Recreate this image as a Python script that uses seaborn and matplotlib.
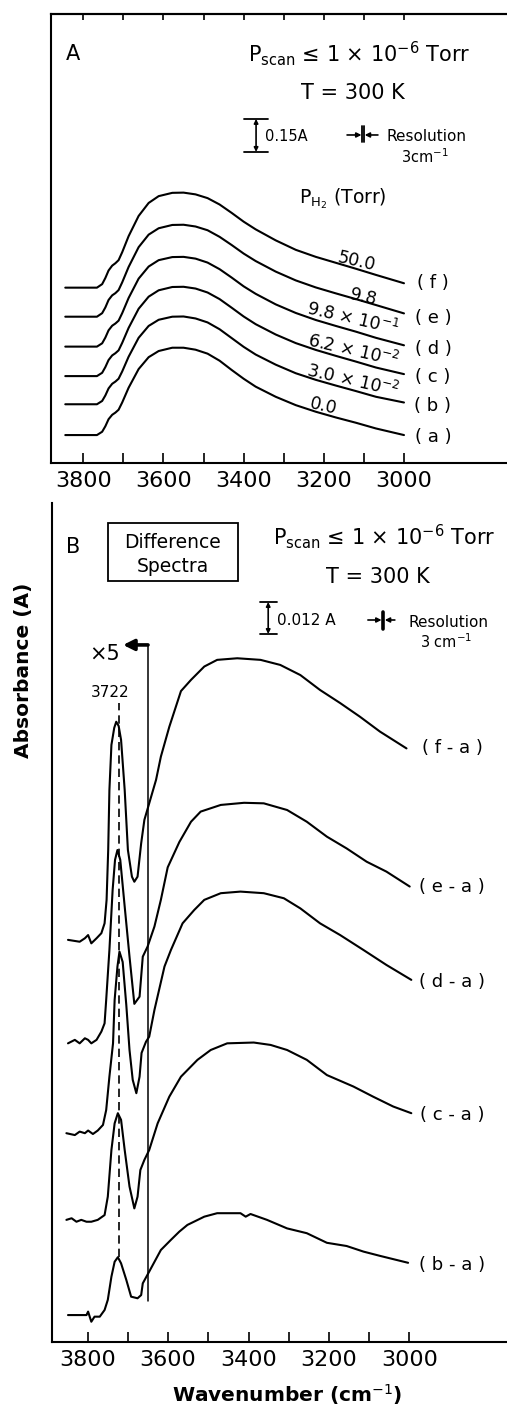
import numpy as np
import pandas as pd
import matplotlib
matplotlib.use("Agg")
import matplotlib.pyplot as plt
import seaborn as sns
from matplotlib.patches import Rectangle

W, H = 507, 1406

# ---------------- Panel A : spectra under H2 (absorbance above own baseline, A) ----
wavenumber_a = [3845, 3766, 3753, 3745, 3737, 3728, 3720, 3712, 3703, 3687, 3662, 3637,
                3612, 3578, 3550, 3520, 3490, 3460, 3430, 3400, 3370, 3320, 3270, 3220,
                3170, 3120, 3070, 3000]
spec_a = [0, 0, 0.015, 0.040, 0.072, 0.092, 0.102, 0.115, 0.148, 0.215, 0.300, 0.354,
          0.382, 0.397, 0.397, 0.388, 0.370, 0.338, 0.296, 0.256, 0.220, 0.174, 0.136,
          0.106, 0.080, 0.056, 0.030, 0.000]
spec_b = [0, 0, 0.015, 0.040, 0.072, 0.093, 0.103, 0.116, 0.149, 0.216, 0.302, 0.356,
          0.384, 0.398, 0.399, 0.390, 0.372, 0.341, 0.301, 0.261, 0.226, 0.180, 0.141,
          0.111, 0.085, 0.060, 0.034, 0.008]
spec_c = [0, 0, 0.015, 0.041, 0.073, 0.094, 0.104, 0.117, 0.151, 0.219, 0.306, 0.361,
          0.390, 0.405, 0.406, 0.398, 0.380, 0.350, 0.311, 0.271, 0.236, 0.189, 0.150,
          0.119, 0.092, 0.066, 0.039, 0.009]
spec_d = [0, 0, 0.015, 0.041, 0.074, 0.095, 0.105, 0.118, 0.152, 0.221, 0.309, 0.364,
          0.393, 0.407, 0.408, 0.400, 0.382, 0.352, 0.314, 0.274, 0.240, 0.192, 0.153,
          0.121, 0.094, 0.068, 0.040, 0.006]
spec_e = [0, 0, 0.016, 0.042, 0.076, 0.097, 0.107, 0.121, 0.156, 0.226, 0.316, 0.373,
          0.402, 0.417, 0.418, 0.410, 0.393, 0.363, 0.326, 0.287, 0.253, 0.205, 0.165,
          0.133, 0.106, 0.080, 0.053, 0.015]
spec_f = [0, 0, 0.016, 0.044, 0.078, 0.100, 0.111, 0.125, 0.161, 0.234, 0.326, 0.385,
          0.416, 0.431, 0.432, 0.424, 0.407, 0.378, 0.340, 0.300, 0.265, 0.215, 0.172,
          0.140, 0.113, 0.086, 0.058, 0.020]
spectrum_ids = ["a", "b", "c", "d", "e", "f"]
baseline_a = [0.127, 0.267, 0.395, 0.529, 0.665, 0.797]
pressure_labels = ["0.0", "3.0 × 10$^{-2}$", "6.2 × 10$^{-2}$", "9.8 × 10$^{-1}$",
                   "9.8", "50.0"]

# ---------------- Panel B : difference spectra (displayed, 10^-3 A) ----------------
fa_wn = [3849, 3820, 3807, 3799, 3791, 3778, 3766, 3758, 3753, 3749, 3746, 3741, 3734,
         3729, 3723, 3717, 3708, 3700, 3690, 3684, 3676, 3667, 3659, 3647, 3630, 3618,
         3597, 3568, 3543, 3510, 3478, 3428, 3370, 3321, 3271, 3222, 3172, 3123, 3073, 3007]
fa_abs = [150.8, 150.1, 151.4, 152.6, 149.5, 151.4, 153.3, 157.0, 165.8, 184.5, 207.0,
          223.9, 230.3, 232.6, 231.0, 225.8, 207.0, 184.5, 174.5, 172.6, 174.5, 187.0,
          195.8, 202.0, 210.8, 219.5, 230.7, 244.1, 248.3, 253.3, 255.8, 256.4, 255.8,
          253.9, 250.1, 244.5, 239.6, 234.5, 228.9, 222.6]
ea_wn = [3849, 3832, 3820, 3807, 3799, 3791, 3778, 3766, 3758, 3754, 3746, 3738, 3732,
         3726, 3719, 3708, 3696, 3684, 3671, 3663, 3651, 3634, 3618, 3601, 3572, 3543,
         3519, 3469, 3411, 3362, 3304, 3255, 3205, 3156, 3106, 3057, 2999]
ea_abs = [112.0, 113.3, 112.0, 113.9, 113.3, 112.0, 113.3, 116.4, 119.5, 128.3, 147.0,
          169.5, 180.8, 184.5, 180.8, 163.3, 144.5, 126.8, 129.5, 144.5, 148.3, 155.8,
          165.8, 178.0, 187.5, 195.1, 198.9, 201.4, 202.2, 202.0, 199.5, 195.1, 189.5,
          185.1, 180.1, 176.4, 170.8]
da_wn = [3853, 3832, 3820, 3807, 3799, 3787, 3775, 3762, 3754, 3746, 3737, 3733, 3726,
         3721, 3713, 3704, 3696, 3688, 3679, 3671, 3666, 3655, 3647, 3634, 3609, 3593,
         3564, 3535, 3510, 3469, 3420, 3362, 3312, 3271, 3222, 3172, 3114, 3057, 2995]
da_abs = [78.3, 77.6, 78.9, 78.3, 79.3, 78.0, 79.3, 81.4, 87.0, 99.5, 112.0, 128.3, 140.8,
          146.4, 142.5, 126.4, 109.5, 98.3, 93.3, 99.5, 108.4, 112.6, 114.5, 124.5, 140.8,
          147.0, 157.0, 162.0, 165.8, 168.3, 168.9, 168.3, 166.4, 162.6, 157.0, 152.6,
          147.0, 141.4, 135.8]
ca_wn = [3853, 3840, 3828, 3816, 3803, 3791, 3775, 3758, 3750, 3741, 3733, 3725, 3717,
         3708, 3696, 3684, 3676, 3669, 3659, 3647, 3626, 3597, 3568, 3527, 3494, 3453,
         3387, 3345, 3304, 3255, 3205, 3139, 3090, 3040, 2995]
ca_abs = [45.8, 46.4, 45.1, 45.8, 45.1, 45.1, 45.8, 47.6, 54.5, 72.0, 82.0, 85.8, 83.3,
          72.0, 58.3, 50.1, 54.5, 64.5, 68.3, 72.0, 82.0, 92.0, 99.5, 105.8, 109.5, 112.0,
          112.3, 111.4, 109.5, 105.8, 100.1, 95.8, 92.0, 88.3, 85.8]
ba_wn = [3849, 3803, 3799, 3791, 3783, 3770, 3758, 3750, 3741, 3733, 3725, 3717, 3704,
         3692, 3676, 3667, 3663, 3647, 3618, 3593, 3572, 3552, 3510, 3478, 3453, 3420,
         3407, 3395, 3354, 3304, 3255, 3205, 3156, 3114, 3073, 3003]
ba_abs = [10.1, 10.1, 11.4, 7.6, 9.5, 9.5, 12.0, 15.8, 24.5, 30.1, 31.8, 29.5, 23.3, 17.0,
          16.4, 17.6, 22.0, 26.4, 34.5, 38.3, 41.4, 43.9, 47.0, 48.3, 48.3, 48.3, 47.0,
          48.0, 45.8, 42.6, 40.8, 37.2, 36.0, 33.9, 32.3, 29.7]
diff_ids = ["(f-a)", "(e-a)", "(d-a)", "(c-a)", "(b-a)"]
diff_labels = ["( f - a )", "( e - a )", "( d - a )", "( c - a )", "( b - a )"]

tick_values = [3800, 3700, 3600, 3500, 3400, 3300, 3200, 3100, 3000]
tick_labels = ["3800", "", "3600", "", "3400", "", "3200", "", "3000"]
x5_boundary = 3650
peak_3722 = 3722

# ---------------- build frames ----------------
rows = []
specs = [spec_a, spec_b, spec_c, spec_d, spec_e, spec_f]
for sid, base, vals in zip(spectrum_ids, baseline_a, specs):
    for w, v in zip(wavenumber_a, vals):
        rows.append({"wn": w, "A": base + v, "spectrum": sid})
df_a = pd.DataFrame(rows)

rows = []
for sid, wns, vals in zip(diff_ids, [fa_wn, ea_wn, da_wn, ca_wn, ba_wn],
                          [fa_abs, ea_abs, da_abs, ca_abs, ba_abs]):
    for w, v in zip(wns, vals):
        rows.append({"wn": w, "A": v, "spectrum": sid})
df_b = pd.DataFrame(rows)

# ---------------- style ----------------
sns.set_style("white")
plt.rcParams["font.family"] = ["DejaVu Sans"]
plt.rcParams["mathtext.fontset"] = "dejavusans"
plt.rcParams["axes.linewidth"] = 1.5
plt.rcParams["text.color"] = "black"
plt.rcParams["axes.labelcolor"] = "black"
plt.rcParams["xtick.color"] = "black"
plt.rcParams["ytick.color"] = "black"
plt.rcParams["axes.edgecolor"] = "black"

fig = plt.figure(figsize=(W / 100, H / 100), dpi=100)


def fx(x):
    return x / W


def fy(y):
    return 1 - y / H


def ftext(x, y, s, **kw):
    kw.setdefault("ha", "center")
    kw.setdefault("va", "baseline")
    fig.text(fx(x), fy(y), s, color="black", **kw)


axA = fig.add_axes([fx(51), fy(463), (507 - 51) / W, (463 - 14) / H])
axB = fig.add_axes([fx(52), fy(1342), (507 - 52) / W, (1342 - 503) / H])

sns.lineplot(data=df_a, x="wn", y="A", units="spectrum", estimator=None, sort=False,
             color="black", lw=1.5, ax=axA, legend=False)
sns.lineplot(data=df_b, x="wn", y="A", units="spectrum", estimator=None, sort=False,
             color="black", lw=1.5, ax=axB, legend=False)

# axes A
axA.set_xlim(3880.6, 2743)
axA.set_ylim(0, 449 / 220)
axA.set_xticks(tick_values)
axA.set_xticklabels(tick_labels)
axA.set_yticks([])
axA.set_xlabel("")
axA.set_ylabel("")
axA.spines["right"].set_visible(False)
for s in ["left", "top", "bottom"]:
    axA.spines[s].set_linewidth(1.5)
    axA.spines[s].set_color("black")
axA.tick_params(axis="x", direction="in", length=7, width=1.2, pad=6, labelsize=16,
                bottom=True, top=False, colors="black")
sec = axA.secondary_xaxis("top")
sec.set_xticks(tick_values)
sec.set_xticklabels([])
sec.tick_params(axis="x", direction="in", length=4.5, width=1.2, colors="black")
sec.spines["top"].set_linewidth(1.5)
sec.spines["top"].set_color("black")

# axes B
axB.set_xlim(3888.8, 2757)
axB.set_ylim(0, 839 * 0.375)
axB.set_xticks(tick_values)
axB.set_xticklabels(tick_labels)
axB.set_yticks([])
axB.spines["right"].set_visible(False)
axB.spines["top"].set_visible(False)
for s in ["left", "bottom"]:
    axB.spines[s].set_linewidth(1.5)
    axB.spines[s].set_color("black")
axB.tick_params(axis="x", direction="in", length=7, width=1.2, pad=6, labelsize=16,
                bottom=True, top=False, colors="black")
axB.set_xlabel("Wavenumber (cm$^{-1}$)", fontsize=14.5, fontweight="bold",
               color="black")
axB.xaxis.label.set_va("baseline")
axB.xaxis.set_label_coords((287 - 52) / 455, (1342 - 1402) / 839)
axB.set_ylabel("Absorbance (A)", fontsize=14.5, fontweight="bold", color="black")
axB.yaxis.label.set_va("center")
axB.yaxis.set_label_coords((24 - 52) / 455, (1342 - 670) / 839)

# ---------------- panel A annotations ----------------
ftext(73, 60, "A", fontsize=15)
ftext(359, 62, "P$_{\\mathrm{scan}}$ ≤ 1 × 10$^{-6}$ Torr", fontsize=15)
ftext(353, 99, "T = 300 K", fontsize=15)
ftext(265, 141, "0.15A", fontsize=10.5, ha="left")
ftext(426, 141, "Resolution", fontsize=11)
ftext(425, 163, "3cm$^{-1}$", fontsize=10.5)
ftext(343, 203, "P$_{\\mathrm{H_2}}$ (Torr)", fontsize=13.5)

label_pos_a = [(323, 406), (353, 381), (353, 351), (353, 319), (363, 297), (357, 261)]
for (x, y), lab in zip(label_pos_a, pressure_labels):
    fig.text(fx(x), fy(y), lab, fontsize=12.5, rotation=-13, rotation_mode="anchor",
             ha="center", va="center", color="black")
letter_y_a = [437, 406, 377, 349, 318, 283]
for sid, y in zip(spectrum_ids, letter_y_a):
    fig.text(fx(433), fy(y), "( %s )" % sid, fontsize=13, ha="center", va="center",
             color="black")

# scale bar 0.15 A
sb_x, sb_y0 = 3369, 1.414
axA.plot([sb_x + 30, sb_x - 30], [sb_y0, sb_y0], color="k", lw=1.3)
axA.plot([sb_x + 30, sb_x - 30], [sb_y0 + 0.15, sb_y0 + 0.15], color="k", lw=1.3)
axA.annotate("", xy=(sb_x, sb_y0 + 0.15), xytext=(sb_x, sb_y0),
             arrowprops=dict(arrowstyle="<|-|>", lw=1.2, mutation_scale=6,
                             shrinkA=0, shrinkB=0, color="k"))
# resolution marker
rx, ry = 3102, 1.491
axA.annotate("", xy=(rx + 4, ry), xytext=(rx + 40, ry),
             arrowprops=dict(arrowstyle="-|>", lw=1.2, mutation_scale=7,
                             shrinkA=0, shrinkB=0, color="k"))
axA.annotate("", xy=(rx - 4, ry), xytext=(rx - 37, ry),
             arrowprops=dict(arrowstyle="-|>", lw=1.2, mutation_scale=7,
                             shrinkA=0, shrinkB=0, color="k"))
axA.plot([rx + 1.5, rx + 1.5], [1.459, 1.532], color="k", lw=1.3)
axA.plot([rx - 1.5, rx - 1.5], [1.459, 1.532], color="k", lw=1.3)

# ---------------- panel B annotations ----------------
ftext(73, 553, "B", fontsize=15)
fig.add_artist(Rectangle((fx(108), fy(581)), (238 - 108) / W, (581 - 523) / H,
                         transform=fig.transFigure, fill=False, lw=1.3, ec="k"))
ftext(173, 548, "Difference", fontsize=13.5)
ftext(173, 572, "Spectra", fontsize=13.5)
ftext(384, 545, "P$_{\\mathrm{scan}}$ ≤ 1 × 10$^{-6}$ Torr", fontsize=15)
ftext(378, 583, "T = 300 K", fontsize=15)
ftext(277, 625, "0.012 A", fontsize=11, ha="left")
ftext(448, 627, "Resolution", fontsize=11)
ftext(446, 648, "3 cm$^{-1}$", fontsize=10.5)
ftext(105, 660, "×5", fontsize=15)
ftext(110, 697, "3722", fontsize=11)

label_y_b = [748, 887, 982, 1115, 1265]
for lab, y in zip(diff_labels, label_y_b):
    fig.text(fx(452), fy(y), lab, fontsize=13, ha="center", va="center", color="black")

# scale bar 0.012 A
bx, by0 = 3351, 265.5
axB.plot([bx + 21, bx - 21], [by0, by0], color="k", lw=1.3)
axB.plot([bx + 21, bx - 21], [by0 + 12, by0 + 12], color="k", lw=1.3)
axB.annotate("", xy=(bx, by0 + 12), xytext=(bx, by0),
             arrowprops=dict(arrowstyle="<|-|>", lw=1.2, mutation_scale=6,
                             shrinkA=0, shrinkB=0, color="k"))
# resolution marker B
rbx, rby = 3065, 270.75
axB.annotate("", xy=(rbx + 4, rby), xytext=(rbx + 38, rby),
             arrowprops=dict(arrowstyle="-|>", lw=1.2, mutation_scale=7,
                             shrinkA=0, shrinkB=0, color="k"))
axB.annotate("", xy=(rbx - 4, rby), xytext=(rbx - 29, rby),
             arrowprops=dict(arrowstyle="-|>", lw=1.2, mutation_scale=7,
                             shrinkA=0, shrinkB=0, color="k"))
axB.plot([rbx, rbx], [267.4, 273.8], color="k", lw=2.6)

# x5 boundary line and arrow
axB.plot([x5_boundary, x5_boundary], [15.4, 261.4], color="k", lw=1.1)
axB.annotate("", xy=(3712, 261.4), xytext=(x5_boundary, 261.4),
             arrowprops=dict(arrowstyle="-|>", lw=2.6, mutation_scale=16,
                             shrinkA=0, shrinkB=0, color="k"))
# dashed line at 3722
axB.plot([peak_3722, peak_3722], [31.9, 239.6], color="k", lw=1.2, ls=(0, (5, 3)))

fig.savefig("out.png", dpi=100)
